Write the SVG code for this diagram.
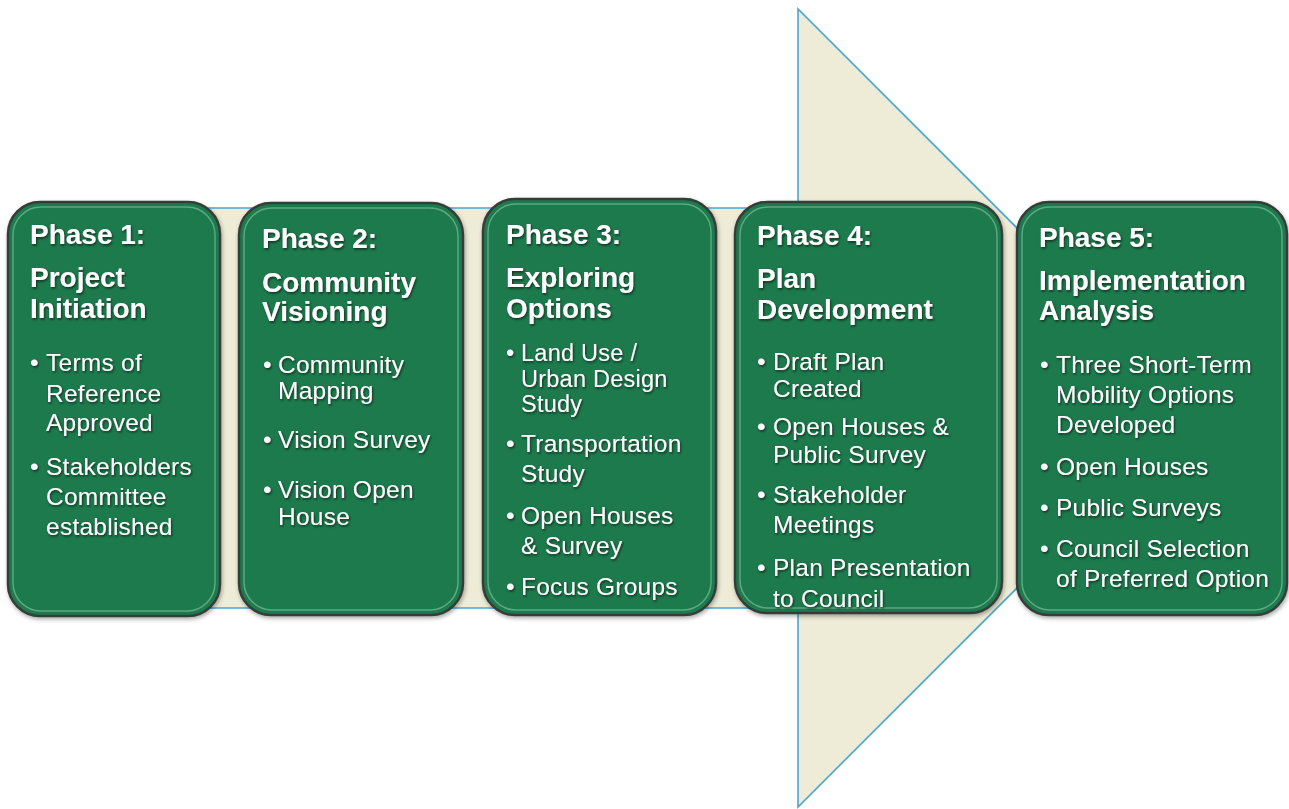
<svg xmlns="http://www.w3.org/2000/svg" width="1289" height="809" viewBox="0 0 1289 809">
<defs>
<filter id="ts" x="-10%" y="-30%" width="130%" height="160%">
<feDropShadow dx="1" dy="1.5" stdDeviation="1" flood-color="#0a2a18" flood-opacity="0.9"/>
</filter>
<filter id="bs" x="-10%" y="-10%" width="120%" height="120%">
<feDropShadow dx="1" dy="2" stdDeviation="2" flood-color="#000" flood-opacity="0.35"/>
</filter>
</defs>
<style>
.arrow{fill:#eeebd6;stroke:#4aa6d6;stroke-width:1.6}
.box{fill:#1e7a4e;stroke:#353d38;stroke-width:2.5}
.gloss{fill:none;stroke:#8fd0ae;stroke-opacity:0.55;stroke-width:1.5}
.t{font-family:"Liberation Sans",Arial,sans-serif;font-weight:bold;font-size:28px;fill:#fff}
.b{font-family:"Liberation Sans",Arial,sans-serif;font-size:24.5px;letter-spacing:0.25px;fill:#fff}
.s{font-size:23.5px}
</style>
<g id="connectors">
<path class="arrow" d="M60,208 L798,208 L798,9 L1197,408 L798,807 L798,608 L60,608 Z"/>
</g>
<g id="phase1" filter="url(#bs)">
<rect class="box" x="8" y="202" width="212" height="414" rx="32"/>
<rect class="gloss" x="13" y="207" width="202" height="404" rx="28"/>
<g filter="url(#ts)">
<text class="t" x="30" y="244">Phase 1:</text>
<text class="t" x="30" y="287">Project</text>
<text class="t" x="30" y="318">Initiation</text>
<text class="b" x="30" y="371">•</text>
<text class="b" x="46" y="371">Terms of</text>
<text class="b" x="46" y="402">Reference</text>
<text class="b" x="46" y="431">Approved</text>
<text class="b" x="30" y="475">•</text>
<text class="b" x="46" y="475">Stakeholders</text>
<text class="b" x="46" y="505">Committee</text>
<text class="b" x="46" y="535">established</text>
</g>
</g>
<g id="phase2" filter="url(#bs)">
<rect class="box" x="239" y="203" width="224" height="412" rx="32"/>
<rect class="gloss" x="244" y="208" width="214" height="402" rx="28"/>
<g filter="url(#ts)">
<text class="t" x="262" y="248">Phase 2:</text>
<text class="t" x="262" y="292">Community</text>
<text class="t" x="262" y="321">Visioning</text>
<text class="b" x="263" y="373">•</text>
<text class="b" x="278" y="373">Community</text>
<text class="b" x="278" y="399">Mapping</text>
<text class="b" x="263" y="448">•</text>
<text class="b" x="278" y="448">Vision Survey</text>
<text class="b" x="263" y="498">•</text>
<text class="b" x="278" y="498">Vision Open</text>
<text class="b" x="278" y="525">House</text>
</g>
</g>
<g id="phase3" filter="url(#bs)">
<rect class="box" x="483" y="199" width="233" height="416" rx="32"/>
<rect class="gloss" x="488" y="204" width="223" height="406" rx="28"/>
<g filter="url(#ts)">
<text class="t" x="506" y="244">Phase 3:</text>
<text class="t" x="506" y="287">Exploring</text>
<text class="t" x="506" y="318">Options</text>
<text class="b s" x="506" y="361">•</text>
<text class="b s" x="521" y="361">Land Use /</text>
<text class="b s" x="521" y="387">Urban Design</text>
<text class="b s" x="521" y="412">Study</text>
<text class="b" x="506" y="452">•</text>
<text class="b" x="521" y="452">Transportation</text>
<text class="b" x="521" y="482">Study</text>
<text class="b" x="506" y="524">•</text>
<text class="b" x="521" y="524">Open Houses</text>
<text class="b" x="521" y="554">&amp; Survey</text>
<text class="b" x="506" y="595">•</text>
<text class="b" x="521" y="595">Focus Groups</text>
</g>
</g>
<g id="phase4" filter="url(#bs)">
<rect class="box" x="735" y="202" width="267" height="411" rx="32"/>
<rect class="gloss" x="740" y="207" width="257" height="401" rx="28"/>
<g filter="url(#ts)">
<text class="t" x="757" y="245">Phase 4:</text>
<text class="t" x="757" y="288">Plan</text>
<text class="t" x="757" y="319">Development</text>
<text class="b" x="757" y="370">•</text>
<text class="b" x="773" y="370">Draft Plan</text>
<text class="b" x="773" y="397">Created</text>
<text class="b" x="757" y="435">•</text>
<text class="b" x="773" y="435">Open Houses &amp;</text>
<text class="b" x="773" y="463">Public Survey</text>
<text class="b" x="757" y="503">•</text>
<text class="b" x="773" y="503">Stakeholder</text>
<text class="b" x="773" y="533">Meetings</text>
<text class="b" x="757" y="576">•</text>
<text class="b" x="773" y="576">Plan Presentation</text>
<text class="b" x="773" y="607">to Council</text>
</g>
</g>
<g id="phase5" filter="url(#bs)">
<rect class="box" x="1017" y="202" width="270" height="413" rx="32"/>
<rect class="gloss" x="1022" y="207" width="260" height="403" rx="28"/>
<g filter="url(#ts)">
<text class="t" x="1039" y="247">Phase 5:</text>
<text class="t" x="1039" y="290">Implementation</text>
<text class="t" x="1039" y="320">Analysis</text>
<text class="b" x="1040" y="373">•</text>
<text class="b" x="1056" y="373">Three Short-Term</text>
<text class="b" x="1056" y="403">Mobility Options</text>
<text class="b" x="1056" y="433">Developed</text>
<text class="b" x="1040" y="475">•</text>
<text class="b" x="1056" y="475">Open Houses</text>
<text class="b" x="1040" y="516">•</text>
<text class="b" x="1056" y="516">Public Surveys</text>
<text class="b" x="1040" y="557">•</text>
<text class="b" x="1056" y="557">Council Selection</text>
<text class="b" x="1056" y="587">of Preferred Option</text>
</g>
</g>
</svg>
